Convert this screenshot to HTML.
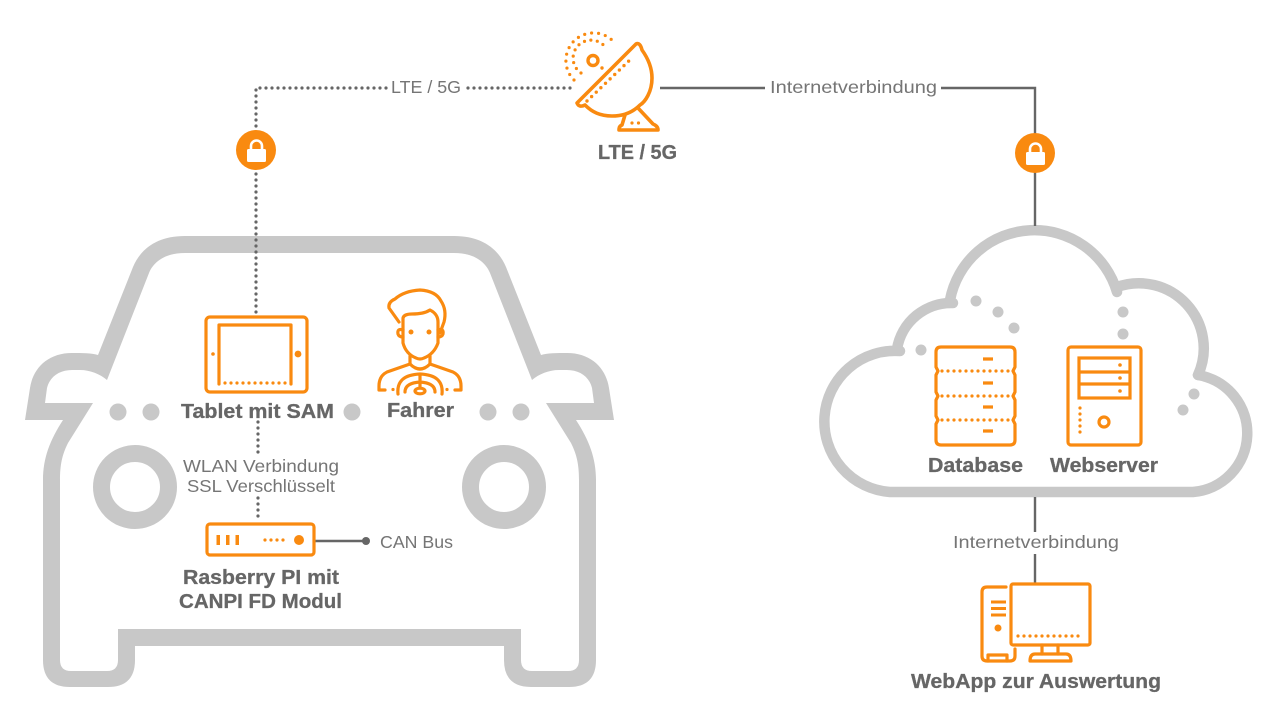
<!DOCTYPE html>
<html><head><meta charset="utf-8"><title>Architektur</title>
<style>
html,body{margin:0;padding:0;background:#fff;width:1280px;height:722px;overflow:hidden}
svg{display:block}
text{font-family:"Liberation Sans",sans-serif;fill:#666}
.b{font-weight:700;font-size:20px;stroke:#666;stroke-width:.3}
.r{font-size:17.5px;fill:#757575}
.o{fill:none;stroke:#f98a10;stroke-width:3.2;stroke-linejoin:round;stroke-linecap:round}
.od{fill:none;stroke:#f98a10;stroke-width:3.2;stroke-linecap:round;stroke-dasharray:0 6}
.f{fill:#f98a10}
.gd{fill:none;stroke:#666;stroke-width:3.2;stroke-linecap:round;stroke-dasharray:0 6}
.gl{fill:none;stroke:#666;stroke-width:2.4}
.c{fill:#c8c8c8}
</style></head><body>
<svg width="1280" height="722" viewBox="0 0 1280 722" xmlns="http://www.w3.org/2000/svg">
<!-- car -->
<g>
<path class="c" d="M320,236 L185,236 C158,236 141,248 133,267 L98,355 C92,353 82,353 72,353 C48,353 33,368 30,388 L25,420 L63,420 C50,440 43,458 43,480 L43,660 Q43,687 70,687 L108,687 Q135,687 135,660 L135,646 L320,646 L320,629 L118,629 L118,660 Q118,671 107,671 L71,671 Q60,671 60,660 L60,480 C60,465 62,455 68,443 L93,403 L45,403 L47,388 C50,376 60,370 72,370 L80,370 C90,370 100,374 107,380 L149,273 C154,261 166,253 185,253 L320,253 Z"/>
<circle cx="135" cy="487" r="33.5" fill="none" stroke="#c8c8c8" stroke-width="17"/>
<circle class="c" cx="118" cy="412" r="8.5"/><circle class="c" cx="151" cy="412" r="8.5"/>
</g>
<g transform="translate(639,0) scale(-1,1)">
<path class="c" d="M320,236 L185,236 C158,236 141,248 133,267 L98,355 C92,353 82,353 72,353 C48,353 33,368 30,388 L25,420 L63,420 C50,440 43,458 43,480 L43,660 Q43,687 70,687 L108,687 Q135,687 135,660 L135,646 L320,646 L320,629 L118,629 L118,660 Q118,671 107,671 L71,671 Q60,671 60,660 L60,480 C60,465 62,455 68,443 L93,403 L45,403 L47,388 C50,376 60,370 72,370 L80,370 C90,370 100,374 107,380 L149,273 C154,261 166,253 185,253 L320,253 Z"/>
<circle cx="135" cy="487" r="33.5" fill="none" stroke="#c8c8c8" stroke-width="17"/>
<circle class="c" cx="118" cy="412" r="8.5"/><circle class="c" cx="151" cy="412" r="8.5"/>
</g>
<circle class="c" cx="352" cy="412" r="8.5"/>

<!-- cloud -->
<g fill="none" stroke="#c8c8c8" stroke-width="10.5" stroke-linecap="round">
<path d="M900,351 A70.5,70.5 0 0 0 890,492 L1193,492 A59,59 0 0 0 1198,375"/>
<path d="M897,349 A55,55 0 0 1 953,303"/>
<path d="M950,300 A86,86 0 0 1 1117,292"/>
<path d="M1117,287 A65,65 0 0 1 1198,375"/>
</g>
<g class="c">
<circle cx="976" cy="301" r="5.5"/><circle cx="998" cy="312" r="5.5"/><circle cx="1014" cy="328" r="5.5"/><circle cx="921" cy="350" r="5.5"/>
<circle cx="1123" cy="312" r="5.5"/><circle cx="1123" cy="334" r="5.5"/><circle cx="1194" cy="394" r="5.5"/><circle cx="1183" cy="410" r="5.5"/>
</g>

<!-- connectors -->
<path class="gd" d="M386,88 L256,88 L256,315"/>
<path class="gd" d="M570,88 L466,88"/>
<path class="gd" d="M258,422 L258,455"/>
<path class="gd" d="M258,498 L258,521"/>
<path class="gl" d="M660,88 L765,88"/>
<path class="gl" d="M941,88 L1035,88 L1035,226"/>
<path class="gl" d="M1035,497 L1035,532"/>
<path class="gl" d="M1035,554 L1035,584"/>
<path class="gl" d="M315,541 L366,541"/>
<circle cx="366" cy="541" r="4" fill="#666"/>

<!-- locks -->
<g>
<circle class="f" cx="256" cy="150" r="20"/>
<rect x="247" y="149" width="19" height="13" rx="1.5" fill="#fff"/>
<path d="M251,150 V146 A5.5,5.5 0 0 1 262,146 V150" fill="none" stroke="#fff" stroke-width="2.6"/>
</g>
<g transform="translate(779,3)">
<circle class="f" cx="256" cy="150" r="20"/>
<rect x="247" y="149" width="19" height="13" rx="1.5" fill="#fff"/>
<path d="M251,150 V146 A5.5,5.5 0 0 1 262,146 V150" fill="none" stroke="#fff" stroke-width="2.6"/>
</g>

<!-- satellite -->
<path class="o" style="stroke-width:3.6" d="M577,103 L636,44 Q640,42 642,50 Q652,64 652,78 C652,92 645,102 640,105 C632,113 622,116 612,116 C600,116 592,112 585,105 Q579,108 577,103 Z"/>
<path class="od" style="stroke-width:3.4;stroke-dasharray:0 6.4" d="M587,101 L633,57"/>
<circle class="o" style="stroke-width:3.4" cx="593" cy="60.500" r="5"/>
<path class="od" style="stroke-width:3.2;stroke-dasharray:0 7" d="M574,80 A27,27 0 1 1 613,41"/>
<path class="od" style="stroke-width:3.2;stroke-dasharray:0 6.500" d="M581,73 A18,18 0 1 1 606,48"/>
<circle class="f" cx="602" cy="68" r="1.700"/>
<path class="o" style="stroke-width:3.6" d="M625,115 L622,125 Q619,126 619,130 H658 Q658,126 653,124 L638,108"/>
<path class="od" style="stroke-dasharray:0 6.500" d="M632,123 L645,123"/>

<!-- tablet -->
<rect class="o" x="206" y="317" width="101" height="75" rx="4"/>
<path class="o" d="M219,384 V325 H291 V384"/>
<path class="od" d="M225,383 L286,383" stroke-dasharray="0 5.500"/>
<circle class="f" cx="213" cy="354" r="1.800"/><circle class="f" cx="298" cy="354" r="3.400"/>

<!-- driver -->
<path class="o" d="M399,322 L389,308 Q388,302 395,299 Q404,291 420,290 Q436,291 441,301 Q447,310 444,322 L440,333"/>
<path class="o" d="M403,330 V318 Q404,314 412,314 Q424,314 430,310 Q438,314 438,322 V343 Q434,354 424,358 Q420,360 416,358 Q406,354 403,343 V330"/>
<path class="o" d="M403,330 Q397,328 398,334 Q399,337 403,337"/>
<path class="o" d="M438,330 Q444,328 443,334 Q442,337 438,337"/>
<circle class="f" cx="411" cy="332" r="2.500"/><circle class="f" cx="429" cy="332" r="2.500"/>
<path class="o" d="M410,356 V364 L387,372 Q379,376 379,386 V390 H385"/>
<path class="o" d="M430,356 V364 L453,372 Q461,376 461,386 V390 H455"/>
<path class="o" d="M410,364 Q420,374 430,364"/>
<path class="o" d="M398,394 Q396,375 420,374 Q444,375 442,394"/>
<path class="o" d="M405,392 Q405,383 420,382 Q435,383 435,392 M420,375 V388"/>
<ellipse class="o" cx="420" cy="391" rx="5" ry="2.800"/>
<circle class="f" cx="393" cy="389.500" r="1.600"/><circle class="f" cx="447" cy="389.500" r="1.600"/>

<!-- router -->
<rect class="o" x="207" y="524" width="107" height="31" rx="3"/>
<rect class="f" x="216.500" y="535" width="3.500" height="10"/><rect class="f" x="226" y="535" width="3.500" height="10"/><rect class="f" x="235.500" y="535" width="3.500" height="10"/>
<path class="od" d="M265,540 L285,540" stroke-dasharray="0 6.500"/>
<circle class="f" cx="299" cy="540" r="5"/>

<!-- database -->
<path class="o" d="M941,347 H1010 Q1015,347 1015,352 V367 L1013,371 L1015,375 V392 L1013,396 L1015,400 V416 L1013,420 L1015,424 V440 Q1015,445 1010,445 H941 Q936,445 936,440 V424 L938,420 L936,416 V400 L938,396 L936,392 V375 L938,371 L936,367 V352 Q936,347 941,347 Z"/>
<path class="od" d="M942,371 L1010,371 M942,396 L1010,396 M942,420 L1010,420"/>
<path d="M983,359 H993 M983,383 H993 M983,407 H993 M983,431 H993" stroke="#f98a10" stroke-width="3.200" fill="none"/>

<!-- webserver -->
<rect class="o" x="1068" y="347" width="73" height="98" rx="3"/>
<rect x="1079" y="358" width="51" height="40" fill="none" stroke="#f98a10" stroke-width="3.200"/>
<path d="M1079,372 H1130 M1079,384 H1130" stroke="#f98a10" stroke-width="3.200"/>
<circle class="f" cx="1120" cy="365" r="1.800"/><circle class="f" cx="1120" cy="378" r="1.800"/><circle class="f" cx="1120" cy="391" r="1.800"/>
<path class="od" d="M1080,408 L1080,436" stroke-dasharray="0 6.700"/>
<circle class="o" cx="1104" cy="422" r="5"/>

<!-- desktop -->
<rect class="o" x="1011" y="584" width="79" height="61" rx="2"/>
<path class="od" d="M1018,636 L1084,636" stroke-dasharray="0 6.500"/>
<path class="o" d="M1042,645 V654 M1058,645 V654"/>
<path class="o" d="M1030,661 Q1030,654 1035,654 H1066 Q1071,654 1071,661 Z"/>
<path class="o" d="M1006,587 H987 Q982,587 982,592 V656 Q982,661 987,661 H1010 Q1015,661 1015,656 V649"/>
<path d="M991,602 H1006 M991,608.500 H1006 M991,615 H1006" stroke="#f98a10" stroke-width="3"/>
<circle class="f" cx="998" cy="628" r="3.500"/>
<path class="o" d="M988,661 V655 H1007 V661"/>

<!-- labels -->
<text class="r" x="391" y="93" textLength="70" lengthAdjust="spacingAndGlyphs">LTE / 5G</text>
<text class="r" x="770" y="93" textLength="167" lengthAdjust="spacingAndGlyphs">Internetverbindung</text>
<text class="r" x="953" y="548" textLength="166" lengthAdjust="spacingAndGlyphs">Internetverbindung</text>
<text class="r" x="183" y="472" textLength="156" lengthAdjust="spacingAndGlyphs">WLAN Verbindung</text>
<text class="r" x="187" y="492" textLength="148" lengthAdjust="spacingAndGlyphs">SSL Verschlüsselt</text>
<text class="r" x="380" y="548" textLength="73" lengthAdjust="spacingAndGlyphs">CAN Bus</text>
<text class="b" x="598" y="159" textLength="79" lengthAdjust="spacingAndGlyphs">LTE / 5G</text>
<text class="b" x="181" y="418" textLength="153" lengthAdjust="spacingAndGlyphs">Tablet mit SAM</text>
<text class="b" x="387" y="417" textLength="67" lengthAdjust="spacingAndGlyphs">Fahrer</text>
<text class="b" x="928" y="472" textLength="95" lengthAdjust="spacingAndGlyphs">Database</text>
<text class="b" x="1050" y="472" textLength="108" lengthAdjust="spacingAndGlyphs">Webserver</text>
<text class="b" x="183" y="584" textLength="156" lengthAdjust="spacingAndGlyphs">Rasberry PI mit</text>
<text class="b" x="179" y="608" textLength="163" lengthAdjust="spacingAndGlyphs">CANPI FD Modul</text>
<text class="b" x="911" y="688" textLength="250" lengthAdjust="spacingAndGlyphs">WebApp zur Auswertung</text>
</svg>
</body></html>
